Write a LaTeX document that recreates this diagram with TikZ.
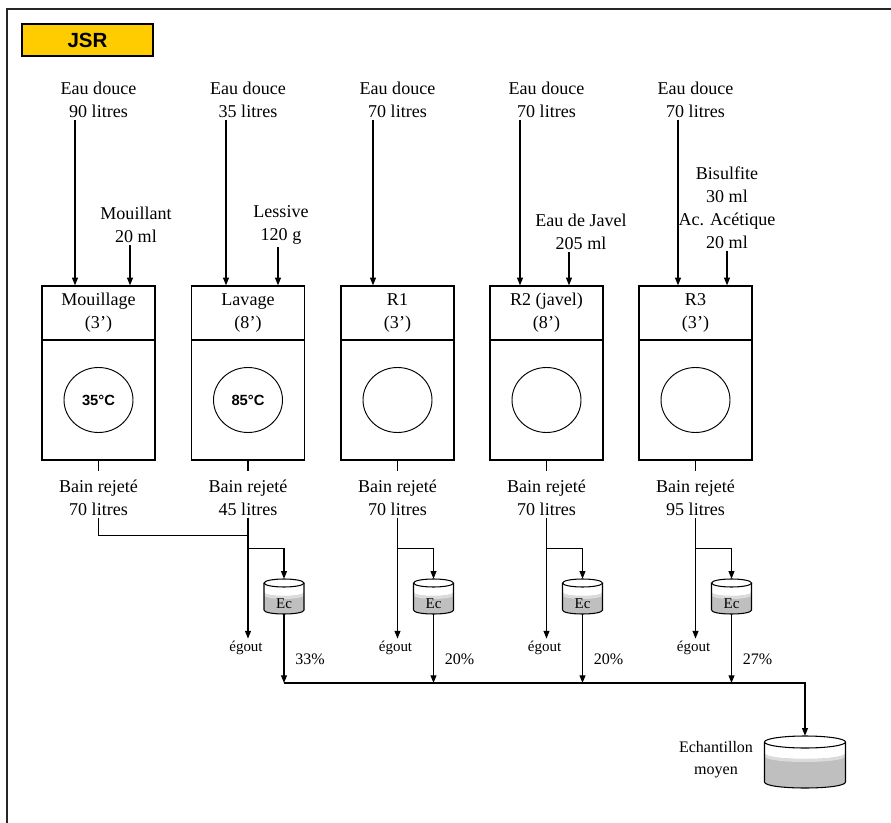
\documentclass[tikz,border=0pt]{standalone}
\usepackage{fontspec}
\setmainfont{Liberation Serif}
\newfontfamily\arialfont{Liberation Sans}
\usetikzlibrary{arrows.meta, positioning, calc, shapes.geometric}
\definecolor{colTitle}{HTML}{FFCC00}
\colorlet{colBath}{gray!50}
\colorlet{colSurf}{gray!28}
\tikzset{
	txt/.style={align=center, font=\fontsize{15.4}{19.6}\selectfont, inner sep=2pt},
	smalltxt/.style={font=\fontsize{12.8}{15}\selectfont, inner sep=2pt},
	pcttxt/.style={font=\fontsize{13.7}{16}\selectfont, inner sep=1pt},
	machbox/.style={draw, line width=1.1pt, minimum width=3.39cm, inner sep=0pt, align=center, font=\fontsize{15.4}{19.6}\selectfont},
	drum/.style={draw, ellipse, line width=0.8pt, minimum width=2.07cm, minimum height=1.95cm, inner sep=0pt, font=\arialfont\bfseries\fontsize{12.6}{15}\selectfont},
	flowarr/.style={-{Triangle[length=6.5pt, width=5pt]}, line width=0.9pt},
	pipe/.style={line width=0.9pt},
	rim/.style={line width=0.9pt},
}
% vessel: name, x, y of rim centre, half width, depth, rim radius, liquid level
\newcommand{\vessel}[7]{%
	\pgfmathsetmacro\vl{#2-#4}\pgfmathsetmacro\vr{#2+#4}%
	\pgfmathsetmacro\vb{#3+#5}\pgfmathsetmacro\vk{#3+#5+4/3*#6}%
	\pgfmathsetmacro\vs{#3+#7}\pgfmathsetmacro\vt{#3+#7+4/3*#6}%
	\pgfmathsetmacro\vu{#3+#7+3}\pgfmathsetmacro\vw{#3+#7+3+4/3*#6}%
	\fill[colBath] (\vl,\vs) .. controls (\vl,\vt) and (\vr,\vt) .. (\vr,\vs) -- (\vr,\vb) .. controls (\vr,\vk) and (\vl,\vk) .. (\vl,\vb) -- cycle;
	\fill[colSurf] (\vl,\vs) .. controls (\vl,\vt) and (\vr,\vt) .. (\vr,\vs) -- (\vr,\vu) .. controls (\vr,\vw) and (\vl,\vw) .. (\vl,\vu) -- cycle;
	\draw[rim] (\vl,#3) -- (\vl,\vb) .. controls (\vl,\vk) and (\vr,\vk) .. (\vr,\vb) -- (\vr,#3);
	\draw[rim, fill=white] (#2,#3) ellipse [x radius=#4, y radius=#6];
	\node[inner sep=0pt, minimum width={#4*0.06cm}, minimum height={(#5+2*#6)*0.03cm}] (#1) at (#2,#3+#5/2) {};
}

\begin{document}
\begin{tikzpicture}[x=0.03cm, y=-0.03cm]
	\useasboundingbox (0,0) rectangle (891,823);
	% Frame
	\draw[line width=1.4pt, black!85] (891,9) -- (7,9) -- (7,823);

	% Title
	\node[draw, line width=1.1pt, fill=colTitle, minimum width=3.93cm, minimum height=0.96cm,
		font=\arialfont\bfseries\fontsize{17.5}{20}\selectfont] (title) at (87.5,40) {JSR};

	% Machines
	\foreach \i/\x/\title/\dur/\temp/\vin/\vout/\dx in {
			1/98.5/Mouillage/3/35°C/90/70/-23.5,
			2/248/Lavage/8/85°C/35/45/-22,
			3/397.5/R1/3//70/70/-24.5,
			4/546.5/R2 (javel)/8//70/70/-26.5,
			5/695.5/R3/3//70/95/-17.5}{
		\node[machbox, minimum height=1.62cm] (head\i) at (\x,313) {\title\\(\dur')};
		\node[machbox, minimum height=3.6cm] (tank\i) at (\x,400) {};
		\node[drum] (drum\i) at (tank\i) {\temp};
		\node[txt] (in\i) at (\x,99.5) {Eau douce\\\vin{} litres};
		\coordinate (w\i) at ([xshift=\dx*0.03cm]head\i.north);
		\draw[flowarr] (w\i |- in\i.south) -- (w\i);
		\node[txt] (out\i) at (\x,497.5) {Bain rejeté\\\vout{} litres};
		\draw[pipe] (tank\i.south) -- ([yshift=-0.3cm]tank\i.south);
	}

	% Additives
	\node[txt] (add1) at (136,225) {Mouillant\\20 ml};
	\node[txt] (add2) at (281,225) {Lessive\\120 g};
	\node[txt] (add4) at (581,232) {Eau de Javel\\205 ml};
	\node[txt] (add5) at (727,207.5) {Bisulfite\\30 ml\\Ac. Acétique\\20 ml};
	\coordinate (a1) at ([xshift=0.945cm]head1.north);
	\coordinate (a2) at ([xshift=0.9cm]head2.north);
	\coordinate (a4) at ([xshift=0.675cm]head4.north);
	\coordinate (a5) at ([xshift=0.945cm]head5.north);
	\foreach \i in {1,2,4,5}{
		\draw[flowarr] (a\i |- add\i.south) -- (a\i);
	}

	% Average sample
	\coordinate (mix) at (805,683);
	\vessel{avg}{805}{742}{40.5}{40}{6}{11}
	\node[txt, font=\fontsize{13.7}{18.7}\selectfont] (avglbl) at (716,760) {Echantillon\\moyen};

	% Discharge and sampling
	\coordinate (j1) at ([yshift=-0.54cm]out2.south);
	\draw[pipe] (out1.south) |- (j1);
	\foreach \i/\x/\pct in {2/248/33, 3/397.5/20, 4/546.5/20, 5/695.5/27}{
		\pgfmathsetmacro\ex{\x+36}
		\vessel{ec\i}{\ex}{583}{20}{27}{4}{9}
		\node[smalltxt] (eclbl\i) at ([yshift=-0.2cm]ec\i.center) {Ec};
		\node[smalltxt] (drain\i) at (\x-2,648) {égout};
		\draw[flowarr] (out\i.south) -- (out\i.south |- drain\i.north);
		\coordinate (br\i) at ([yshift=-0.93cm]out\i.south);
		\draw[flowarr] (br\i) -| (ec\i.north);
		\node[pcttxt] (pct\i) at (\ex+26,659) {\pct\%};
		\draw[flowarr] (ec\i.south) -- (ec\i.south |- mix);
	}
	\draw[flowarr] (ec2.south |- mix) -| (avg.north);
\end{tikzpicture}
\end{document}
